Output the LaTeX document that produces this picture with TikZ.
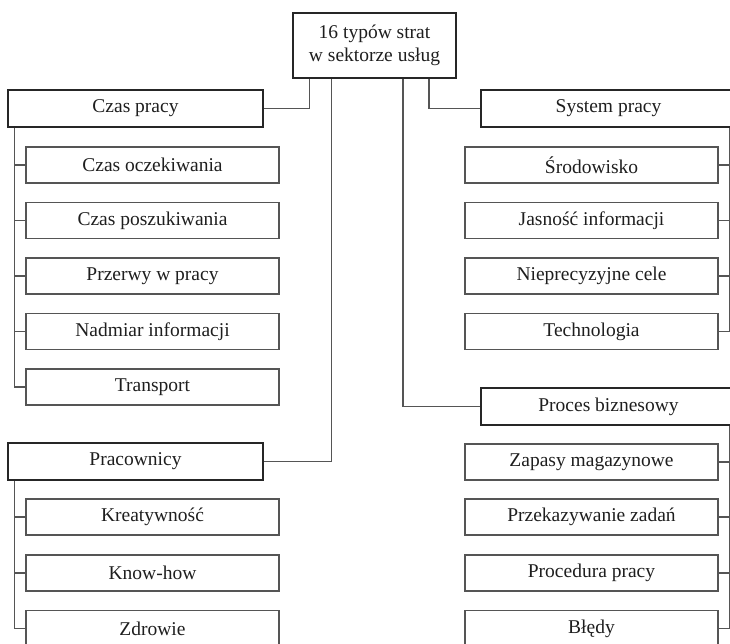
\documentclass[tikz,border=0pt]{standalone}
\usepackage{fontspec}
\setmainfont{Liberation Serif}
\usepackage{xcolor}
\usetikzlibrary{calc,positioning}

\definecolor{linegray}{RGB}{85,85,85}
\definecolor{textdark}{RGB}{30,30,30}

\begin{document}
\begin{tikzpicture}[x=1pt,y=-1pt,
  mainbox/.style={draw=black!85,line width=1.8pt,minimum width=255pt,minimum height=37pt,inner sep=0pt,
    text=textdark,font=\fontsize{19.5}{23}\selectfont},
  subbox/.style={draw=linegray,line width=1.3pt,minimum width=253pt,minimum height=36pt,inner sep=0pt,
    text=textdark,font=\fontsize{19.5}{23}\selectfont},
  link/.style={draw=linegray,line width=1.2pt}]
\useasboundingbox (0,0) rectangle (730,644);
\clip (0,0) rectangle (730,644);
% root
\node[draw=black!85,line width=1.8pt,minimum width=163pt,minimum height=65pt,inner sep=0pt,align=center,
  text=textdark,font=\fontsize{19.5}{23}\selectfont] (root) at (374.5,45.5) {16 typów strat\\w sektorze usług};
% left branch
\node[mainbox] (czas) at (135.5,108.5) {Czas pracy};
\node[subbox] (oczek) at (152.5,165) {Czas oczekiwania};
\node[subbox] (poszuk) at (152.5,220.5) {Czas poszukiwania};
\node[subbox] (przerwy) at (152.5,276) {Przerwy w pracy};
\node[subbox] (nadmiar) at (152.5,331.5) {Nadmiar informacji};
\node[subbox] (transport) at (152.5,387) {Transport};
\node[mainbox] (prac) at (135.5,461.5) {Pracownicy};
\node[subbox] (kreat) at (152.5,517) {Kreatywność};
\node[subbox] (know) at (152.5,573) {Know-how};
\node[subbox] (zdrowie) at (152.5,628.5) {Zdrowie};
% right branch
\node[mainbox] (system) at (608.5,108.5) {System pracy};
\node[subbox] (srod) at (591.5,165) {Środowisko};
\node[subbox] (jasnosc) at (591.5,220.5) {Jasność informacji};
\node[subbox] (cele) at (591.5,276) {Nieprecyzyjne cele};
\node[subbox] (techn) at (591.5,331.5) {Technologia};
\node[mainbox] (proces) at (608.5,406.5) {Proces biznesowy};
\node[subbox] (zapasy) at (591.5,462) {Zapasy magazynowe};
\node[subbox] (przekaz) at (591.5,517) {Przekazywanie zadań};
\node[subbox] (proced) at (591.5,573) {Procedura pracy};
\node[subbox] (bledy) at (591.5,628.5) {Błędy};
% from root
\draw[link] ($(root.south west)+(17,0)$) |- (czas.east);
\draw[link] ($(root.south west)+(39,0)$) |- (prac.east);
\draw[link] ($(root.south east)+(-28,0)$) |- (system.west);
\draw[link] ($(root.south east)+(-54,0)$) |- (proces.west);
% left trees
\draw[link] ($(czas.south west)+(7,0)$) |- (oczek.west);
\draw[link] ($(czas.south west)+(7,0)$) |- (poszuk.west);
\draw[link] ($(czas.south west)+(7,0)$) |- (przerwy.west);
\draw[link] ($(czas.south west)+(7,0)$) |- (nadmiar.west);
\draw[link] ($(czas.south west)+(7,0)$) |- (transport.west);
\draw[link] ($(prac.south west)+(7,0)$) |- (kreat.west);
\draw[link] ($(prac.south west)+(7,0)$) |- (know.west);
\draw[link] ($(prac.south west)+(7,0)$) |- (zdrowie.west);
% right trees
\draw[link] ($(system.south east)+(-7,0)$) |- (srod.east);
\draw[link] ($(system.south east)+(-7,0)$) |- (jasnosc.east);
\draw[link] ($(system.south east)+(-7,0)$) |- (cele.east);
\draw[link] ($(system.south east)+(-7,0)$) |- (techn.east);
\draw[link] ($(proces.south east)+(-7,0)$) |- (zapasy.east);
\draw[link] ($(proces.south east)+(-7,0)$) |- (przekaz.east);
\draw[link] ($(proces.south east)+(-7,0)$) |- (proced.east);
\draw[link] ($(proces.south east)+(-7,0)$) |- (bledy.east);
\end{tikzpicture}
\end{document}
